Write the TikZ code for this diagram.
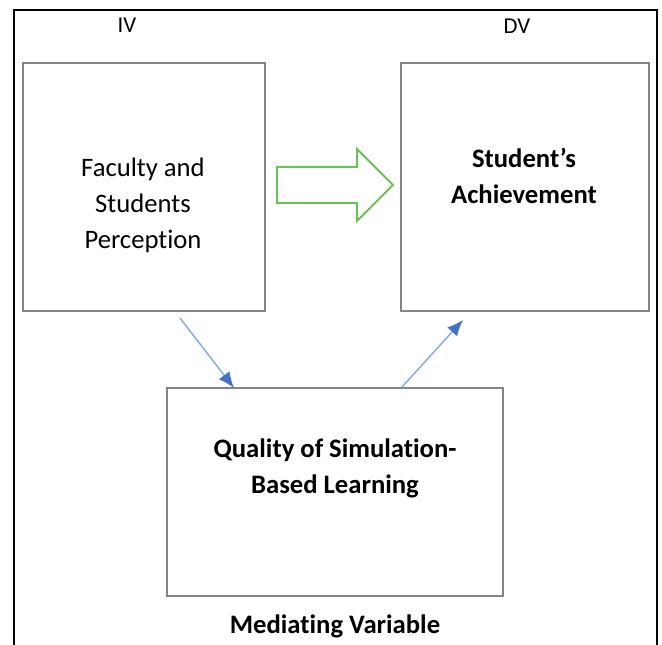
\documentclass[tikz,border=0pt]{standalone}
\usepackage{fontspec}
\setmainfont[Ligatures=NoCommon]{Carlito}
\usetikzlibrary{arrows.meta}

\definecolor{boxgray}{HTML}{858585}
\definecolor{fatgreen}{HTML}{6CC05A}
\definecolor{linkblue}{HTML}{8AAAE5}
\definecolor{tipblue}{HTML}{4472C4}

\tikzset{
    varbox/.style={draw=boxgray, line width=1.7pt, fill=white,
        inner sep=0pt},
    boxtext/.style={align=center, font=\fontsize{20}{27}\selectfont},
    headtext/.style={font=\fontsize{17}{20}\selectfont},
    link/.style={draw=linkblue, line width=1.1pt,
        -{Latex[length=12pt,width=10pt,fill=tipblue,color=tipblue]}}
}

\begin{document}
\begin{tikzpicture}[x=0.75pt,y=-0.75pt]
    \useasboundingbox (0,0) rectangle (662,645);

    % Marco exterior
    \draw[black, line width=1.6pt] (14,645) -- (14,10) -- (657,10) -- (657,645);

    % Cajas de las variables
    \node[varbox, minimum width=242*0.75pt, minimum height=248*0.75pt]
        (iv) at (144,187) {};
    \node[varbox, minimum width=248*0.75pt, minimum height=248*0.75pt]
        (dv) at (525,187) {};
    \node[varbox, minimum width=336*0.75pt, minimum height=208*0.75pt]
        (med) at (335,492) {};

    % Textos
    \node[headtext] (ivlabel) at (127,25) {IV};
    \node[headtext] (dvlabel) at (517,26) {DV};
    \node[boxtext] (ivtext) at (143,205) {Faculty and\\Students\\Perception};
    \node[boxtext, font=\fontsize{20}{27}\selectfont\bfseries]
        (dvtext) at (524,176) {Student’s\\Achievement};
    \node[boxtext, font=\fontsize{20}{27}\selectfont\bfseries]
        (medtext) at (335,468) {Quality of Simulation-\\Based Learning};
    \node[boxtext, font=\fontsize{20}{27}\selectfont\bfseries]
        (medlabel) at (335,626) {Mediating Variable};

    % Flecha gruesa IV -> DV
    \draw[fatgreen, line width=1.5pt, line join=miter]
        (277,167) -- (357,167) -- (357,149) -- (393,185)
        -- (357,221) -- (357,203) -- (277,203) -- cycle;

    % Flechas a traves de la variable mediadora
    \coordinate (ivout) at (180,318);
    \coordinate (medin) at (234,388);
    \coordinate (medout) at (402,387);
    \coordinate (dvin) at (463,320);
    \draw[link] (ivout) -- (medin);
    \draw[link] (medout) -- (dvin);
\end{tikzpicture}
\end{document}
